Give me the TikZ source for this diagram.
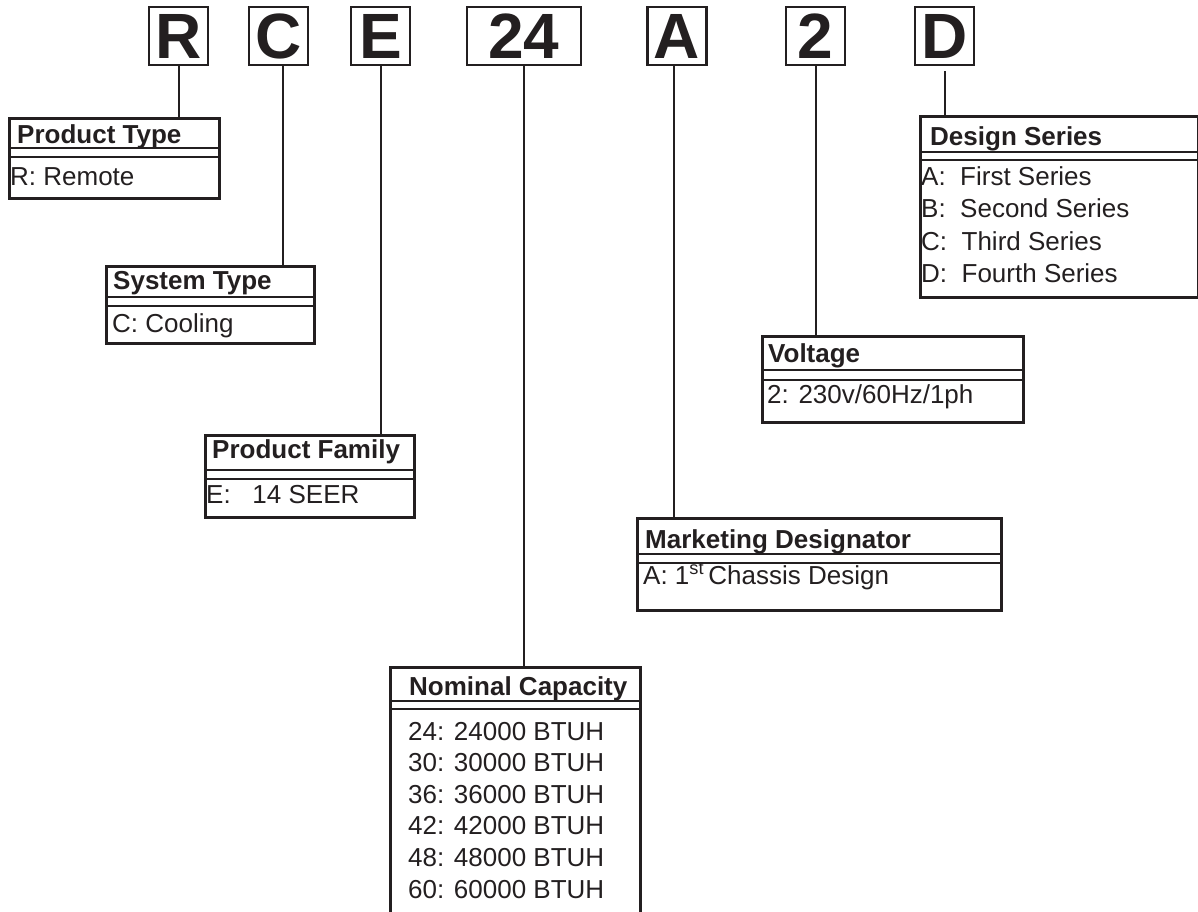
\documentclass[tikz,border=0pt]{standalone}
\usepackage{fontspec}
\setmainfont{Liberation Sans}
\usetikzlibrary{
    calc,
    positioning
}
\definecolor{ink}{RGB}{35,31,32}

\begin{document}
\begin{tikzpicture}[
    x=1pt, y=-1pt,
    letter/.style={draw=ink, line width=2.4pt, minimum width=59pt, minimum height=58pt, inner sep=0pt, text=ink, font=\fontsize{64}{64}\selectfont\bfseries},
    link/.style={draw=ink, line width=2pt},
    infobox/.style={draw=ink, line width=2.6pt, anchor=north west, inner sep=0pt},
    sepline/.style={draw=ink, line width=1.3pt},
    head/.style={anchor=base west, inner sep=0pt, text=ink, font=\fontsize{26}{26}\selectfont\bfseries},
    entry/.style={anchor=base west, inner sep=0pt, text=ink, font=\fontsize{26}{26}\selectfont}
]
    \useasboundingbox (0,0) rectangle (1198,911);

    % Model number letters
    \node[letter] (lR) at (178.5,36) {R};
    \node[letter] (lC) at (278.5,36) {C};
    \node[letter] (lE) at (380.5,36) {E};
    \node[letter, minimum width=114pt] (l24) at (524,36) {24};
    \node[letter] (lA) at (677,36) {A};
    \node[letter] (l2) at (815.5,36) {2};
    \node[letter] (lD) at (944.5,36) {D};

    % Product type
    \node[infobox, minimum width=210pt, minimum height=80pt] (ptype) at (8,117) {};
    \draw[sepline] ([yshift=-31pt]ptype.north west) -- ([yshift=-31pt]ptype.north east)
                   ([yshift=-40pt]ptype.north west) -- ([yshift=-40pt]ptype.north east);
    \node[head] (ptypeh) at (17,143) {Product Type};
    \node[entry] (ptypeR) at (10,185) {R: Remote};

    % System type
    \node[infobox, minimum width=208pt, minimum height=77pt] (stype) at (105,265) {};
    \draw[sepline] ([yshift=-32pt]stype.north west) -- ([yshift=-32pt]stype.north east)
                   ([yshift=-41pt]stype.north west) -- ([yshift=-41pt]stype.north east);
    \node[head] (stypeh) at (113,289) {System Type};
    \node[entry] (stypeC) at (112,332) {C: Cooling};

    % Product family
    \node[infobox, minimum width=209pt, minimum height=82pt] (pfam) at (204,434) {};
    \draw[sepline] ([yshift=-36pt]pfam.north west) -- ([yshift=-36pt]pfam.north east)
                   ([yshift=-45pt]pfam.north west) -- ([yshift=-45pt]pfam.north east);
    \node[head] (pfamh) at (212,458) {Product Family};
    \node[entry] (pfamE) at (206,503) {E:\ \ \ 14 SEER};

    % Nominal capacity (runs off the bottom edge)
    \node[infobox, minimum width=250pt, minimum height=260pt] (ncap) at (389,666) {};
    \draw[sepline] ([yshift=-35pt]ncap.north west) -- ([yshift=-35pt]ncap.north east)
                   ([yshift=-43pt]ncap.north west) -- ([yshift=-43pt]ncap.north east);
    \node[head] (ncaph) at (409,695) {Nominal Capacity};
    \node[entry] (cap24) at (408,740) {24: 24000 BTUH};
    \node[entry] (cap30) at (408,771.6) {30: 30000 BTUH};
    \node[entry] (cap36) at (408,803.2) {36: 36000 BTUH};
    \node[entry] (cap42) at (408,834.8) {42: 42000 BTUH};
    \node[entry] (cap48) at (408,866.4) {48: 48000 BTUH};
    \node[entry] (cap60) at (408,898) {60: 60000 BTUH};

    % Marketing designator
    \node[infobox, minimum width=364pt, minimum height=92pt] (mkt) at (636,517) {};
    \draw[sepline] ([yshift=-37pt]mkt.north west) -- ([yshift=-37pt]mkt.north east)
                   ([yshift=-46pt]mkt.north west) -- ([yshift=-46pt]mkt.north east);
    \node[head] (mkth) at (645,548) {Marketing Designator};
    \node[entry] (mktA) at (643,584) {A: 1\textsuperscript{st}\,Chassis Design};

    % Voltage
    \node[infobox, minimum width=261pt, minimum height=86pt] (volt) at (761,335) {};
    \draw[sepline] ([yshift=-35pt]volt.north west) -- ([yshift=-35pt]volt.north east)
                   ([yshift=-45pt]volt.north west) -- ([yshift=-45pt]volt.north east);
    \node[head] (volth) at (768,362) {Voltage};
    \node[entry] (volt2) at (767,403) {2: 230v/60Hz/1ph};

    % Design series
    \node[infobox, minimum width=278pt, minimum height=181pt] (dser) at (919,115) {};
    \draw[sepline] ([yshift=-37pt]dser.north west) -- ([yshift=-37pt]dser.north east)
                   ([yshift=-45pt]dser.north west) -- ([yshift=-45pt]dser.north east);
    \node[head] (dserh) at (930,145) {Design Series};
    \node[entry] (serA) at (921,185) {A:\ \ First Series};
    \node[entry] (serB) at (921,217.5) {B:\ \ Second Series};
    \node[entry] (serC) at (921,250) {C:\ \ Third Series};
    \node[entry] (serD) at (921,282) {D:\ \ Fourth Series};

    % Leader lines
    \draw[link] (lR.south) -- (lR.south |- ptype.north);
    \draw[link] ([xshift=4pt]lC.south) -- ([xshift=4pt]lC.south |- stype.north);
    \draw[link] (lE.south) -- (lE.south |- pfam.north);
    \draw[link] (l24.south) -- (l24.south |- ncap.north);
    \draw[link] ([xshift=-3pt]lA.south) -- ([xshift=-3pt]lA.south |- mkt.north);
    \draw[link] (l2.south) -- (l2.south |- volt.north);
    \draw[link, shorten <=5pt] (lD.south) -- (lD.south |- dser.north);
\end{tikzpicture}
\end{document}
